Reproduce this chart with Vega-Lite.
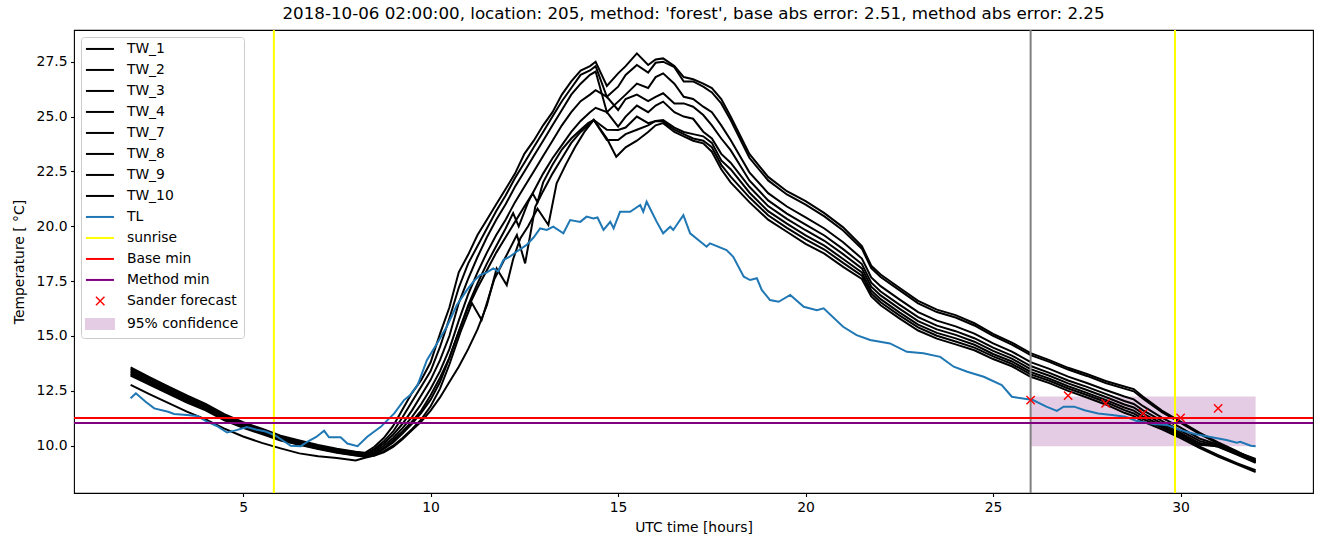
{
"$schema": "https://vega.github.io/schema/vega-lite/v6.json",
"width": 1239, "height": 463,
"autosize": {"type": "none"},
"padding": {"left": 74, "top": 30, "right": 11, "bottom": 54},
"background": "white",
"title": {"text": "2018-10-06 02:00:00, location: 205, method: 'forest', base abs error: 2.51, method abs error: 2.25", "fontSize": 16.7, "font": "DejaVu Sans", "fontWeight": "normal", "color": "black", "offset": 6, "anchor": "middle"},
"config": {
 "font": "DejaVu Sans",
 "view": {"stroke": "black", "strokeWidth": 1.1},
 "axis": {"grid": false, "domain": false, "tickColor": "black", "tickSize": 3.5, "tickWidth": 1.1, "labelColor": "black", "labelFontSize": 13.9, "labelFont": "DejaVu Sans", "labelPadding": 3.5, "titleFont": "DejaVu Sans", "titleFontSize": 13.9, "titleFontWeight": "normal", "titleColor": "black"}
},
"datasets": {
 "band": [{"s": "95% confidence", "h": 26, "h2": 32, "t": 9.98, "t2": 12.24}],
 "tw": [
{"s":"TW_1","h":2,"t":13.57},{"s":"TW_1","h":2.5,"t":13.13},{"s":"TW_1","h":3,"t":12.7},{"s":"TW_1","h":3.5,"t":12.29},{"s":"TW_1","h":4,"t":11.91},{"s":"TW_1","h":4.5,"t":11.44},{"s":"TW_1","h":5,"t":11.07},{"s":"TW_1","h":5.5,"t":10.77},{"s":"TW_1","h":6,"t":10.46},{"s":"TW_1","h":6.5,"t":10.24},{"s":"TW_1","h":7,"t":10.03},{"s":"TW_1","h":7.5,"t":9.86},{"s":"TW_1","h":8,"t":9.73},
{"s":"TW_1","h":8.25,"t":9.68},{"s":"TW_1","h":8.5,"t":9.95},{"s":"TW_1","h":8.75,"t":10.35},{"s":"TW_1","h":9,"t":10.9},{"s":"TW_1","h":9.25,"t":11.65},{"s":"TW_1","h":9.5,"t":12.4},{"s":"TW_1","h":9.75,"t":13.0},{"s":"TW_1","h":10,"t":13.8},{"s":"TW_1","h":10.25,"t":15.1},{"s":"TW_1","h":10.5,"t":16.3},{"s":"TW_1","h":10.75,"t":17.9},{"s":"TW_1","h":11,"t":18.7},{"s":"TW_1","h":11.25,"t":19.6},{"s":"TW_1","h":11.5,"t":20.3},{"s":"TW_1","h":11.75,"t":21.0},{"s":"TW_1","h":12,"t":21.7},{"s":"TW_1","h":12.25,"t":22.4},{"s":"TW_1","h":12.5,"t":23.3},{"s":"TW_1","h":12.75,"t":23.9},{"s":"TW_1","h":13,"t":24.6},{"s":"TW_1","h":13.25,"t":25.2},{"s":"TW_1","h":13.5,"t":26.0},{"s":"TW_1","h":13.75,"t":26.6},{"s":"TW_1","h":14,"t":27.1},{"s":"TW_1","h":14.25,"t":27.3},
{"s":"TW_1","h":14.4,"t":27.5},{"s":"TW_1","h":14.7,"t":26.4},{"s":"TW_1","h":15,"t":26.97},{"s":"TW_1","h":15.2,"t":27.3},{"s":"TW_1","h":15.5,"t":27.88},{"s":"TW_1","h":15.8,"t":27.35},{"s":"TW_1","h":16,"t":27.6},{"s":"TW_1","h":16.2,"t":27.65},{"s":"TW_1","h":16.5,"t":27.3},{"s":"TW_1","h":16.75,"t":26.8},{"s":"TW_1","h":17,"t":26.7},{"s":"TW_1","h":17.27,"t":26.5},{"s":"TW_1","h":17.5,"t":26.3},{"s":"TW_1","h":17.75,"t":25.8},{"s":"TW_1","h":18,"t":25.0},
{"s":"TW_1","h":18.5,"t":23.3},{"s":"TW_1","h":19,"t":22.25},{"s":"TW_1","h":19.5,"t":21.6},{"s":"TW_1","h":20,"t":21.15},{"s":"TW_1","h":20.5,"t":20.6},{"s":"TW_1","h":21,"t":19.95},{"s":"TW_1","h":21.5,"t":19.1},{"s":"TW_1","h":21.75,"t":18.2},{"s":"TW_1","h":22,"t":17.8},{"s":"TW_1","h":22.5,"t":17.2},{"s":"TW_1","h":23,"t":16.6},{"s":"TW_1","h":23.5,"t":16.2},{"s":"TW_1","h":24,"t":15.95},{"s":"TW_1","h":24.5,"t":15.58},{"s":"TW_1","h":25,"t":15.1},{"s":"TW_1","h":25.5,"t":14.7},{"s":"TW_1","h":26,"t":14.22},{"s":"TW_1","h":26.5,"t":13.9},{"s":"TW_1","h":27,"t":13.55},{"s":"TW_1","h":27.5,"t":13.27},{"s":"TW_1","h":28,"t":12.95},{"s":"TW_1","h":28.5,"t":12.7},{"s":"TW_1","h":28.75,"t":12.58},{"s":"TW_1","h":29,"t":12.23},{"s":"TW_1","h":29.5,"t":11.6},{"s":"TW_1","h":30,"t":11.1},{"s":"TW_1","h":30.5,"t":10.6},{"s":"TW_1","h":31,"t":10.15},{"s":"TW_1","h":31.5,"t":9.75},{"s":"TW_1","h":32,"t":9.3},

{"s":"TW_2","h":2,"t":13.5},{"s":"TW_2","h":2.5,"t":13.06},{"s":"TW_2","h":3,"t":12.64},{"s":"TW_2","h":3.5,"t":12.23},{"s":"TW_2","h":4,"t":11.85},{"s":"TW_2","h":4.5,"t":11.38},{"s":"TW_2","h":5,"t":11.03},{"s":"TW_2","h":5.5,"t":10.73},{"s":"TW_2","h":6,"t":10.42},{"s":"TW_2","h":6.5,"t":10.2},{"s":"TW_2","h":7,"t":10.0},{"s":"TW_2","h":7.5,"t":9.83},{"s":"TW_2","h":8,"t":9.7},
{"s":"TW_2","h":8.25,"t":9.62},{"s":"TW_2","h":8.5,"t":9.85},{"s":"TW_2","h":8.75,"t":10.2},{"s":"TW_2","h":9,"t":10.65},{"s":"TW_2","h":9.25,"t":11.3},{"s":"TW_2","h":9.5,"t":12.0},{"s":"TW_2","h":9.75,"t":12.7},{"s":"TW_2","h":10,"t":13.4},{"s":"TW_2","h":10.25,"t":14.5},{"s":"TW_2","h":10.5,"t":15.8},{"s":"TW_2","h":10.75,"t":17.2},{"s":"TW_2","h":11,"t":18.3},{"s":"TW_2","h":11.25,"t":19.1},{"s":"TW_2","h":11.5,"t":19.9},{"s":"TW_2","h":11.75,"t":20.7},{"s":"TW_2","h":12,"t":21.4},{"s":"TW_2","h":12.25,"t":22.2},{"s":"TW_2","h":12.5,"t":22.9},{"s":"TW_2","h":12.75,"t":23.6},{"s":"TW_2","h":13,"t":24.3},{"s":"TW_2","h":13.25,"t":25.0},{"s":"TW_2","h":13.5,"t":25.7},{"s":"TW_2","h":13.75,"t":26.3},{"s":"TW_2","h":14,"t":26.9},{"s":"TW_2","h":14.25,"t":27.1},
{"s":"TW_2","h":14.4,"t":27.3},{"s":"TW_2","h":14.7,"t":25.9},{"s":"TW_2","h":15,"t":26.36},{"s":"TW_2","h":15.2,"t":26.9},{"s":"TW_2","h":15.5,"t":27.35},{"s":"TW_2","h":15.8,"t":27.0},{"s":"TW_2","h":16,"t":27.45},{"s":"TW_2","h":16.2,"t":27.5},{"s":"TW_2","h":16.5,"t":27.25},{"s":"TW_2","h":16.75,"t":26.6},{"s":"TW_2","h":17,"t":26.6},{"s":"TW_2","h":17.27,"t":26.36},{"s":"TW_2","h":17.5,"t":26.1},{"s":"TW_2","h":17.75,"t":25.6},{"s":"TW_2","h":18,"t":24.84},
{"s":"TW_2","h":18.5,"t":23.12},{"s":"TW_2","h":19,"t":22.09},{"s":"TW_2","h":19.5,"t":21.45},{"s":"TW_2","h":20,"t":20.99},{"s":"TW_2","h":20.5,"t":20.45},{"s":"TW_2","h":21,"t":19.81},{"s":"TW_2","h":21.5,"t":18.98},{"s":"TW_2","h":21.75,"t":18.09},{"s":"TW_2","h":22,"t":17.69},{"s":"TW_2","h":22.5,"t":17.09},{"s":"TW_2","h":23,"t":16.49},{"s":"TW_2","h":23.5,"t":16.09},{"s":"TW_2","h":24,"t":15.84},{"s":"TW_2","h":24.5,"t":15.48},{"s":"TW_2","h":25,"t":15.01},{"s":"TW_2","h":25.5,"t":14.61},{"s":"TW_2","h":26,"t":14.13},{"s":"TW_2","h":26.5,"t":13.82},{"s":"TW_2","h":27,"t":13.47},{"s":"TW_2","h":27.5,"t":13.18},{"s":"TW_2","h":28,"t":12.86},{"s":"TW_2","h":28.5,"t":12.6},{"s":"TW_2","h":28.75,"t":12.48},{"s":"TW_2","h":29,"t":12.14},{"s":"TW_2","h":29.5,"t":11.53},{"s":"TW_2","h":30,"t":11.04},{"s":"TW_2","h":30.5,"t":10.54},{"s":"TW_2","h":31,"t":10.1},{"s":"TW_2","h":31.5,"t":9.72},{"s":"TW_2","h":32,"t":9.35},

{"s":"TW_3","h":2,"t":13.43},{"s":"TW_3","h":2.5,"t":12.98},{"s":"TW_3","h":3,"t":12.57},{"s":"TW_3","h":3.5,"t":12.17},{"s":"TW_3","h":4,"t":11.79},{"s":"TW_3","h":4.5,"t":11.33},{"s":"TW_3","h":5,"t":10.98},{"s":"TW_3","h":5.5,"t":10.68},{"s":"TW_3","h":6,"t":10.38},{"s":"TW_3","h":6.5,"t":10.16},{"s":"TW_3","h":7,"t":9.96},{"s":"TW_3","h":7.5,"t":9.79},{"s":"TW_3","h":8,"t":9.66},
{"s":"TW_3","h":8.25,"t":9.6},{"s":"TW_3","h":8.5,"t":9.8},{"s":"TW_3","h":8.75,"t":10.1},{"s":"TW_3","h":9,"t":10.5},{"s":"TW_3","h":9.25,"t":11.0},{"s":"TW_3","h":9.5,"t":11.6},{"s":"TW_3","h":9.75,"t":12.3},{"s":"TW_3","h":10,"t":13.0},{"s":"TW_3","h":10.25,"t":13.9},{"s":"TW_3","h":10.5,"t":15.0},{"s":"TW_3","h":10.75,"t":16.5},{"s":"TW_3","h":11,"t":17.6},{"s":"TW_3","h":11.25,"t":18.6},{"s":"TW_3","h":11.5,"t":19.5},{"s":"TW_3","h":11.75,"t":20.3},{"s":"TW_3","h":12,"t":21.0},{"s":"TW_3","h":12.25,"t":21.8},{"s":"TW_3","h":12.5,"t":22.5},{"s":"TW_3","h":12.75,"t":23.2},{"s":"TW_3","h":13,"t":23.9},{"s":"TW_3","h":13.25,"t":24.6},{"s":"TW_3","h":13.5,"t":25.3},{"s":"TW_3","h":13.75,"t":26.0},{"s":"TW_3","h":14,"t":26.5},{"s":"TW_3","h":14.25,"t":26.9},
{"s":"TW_3","h":14.4,"t":27.05},{"s":"TW_3","h":14.7,"t":25.2},{"s":"TW_3","h":15,"t":25.68},{"s":"TW_3","h":15.2,"t":26.0},{"s":"TW_3","h":15.5,"t":26.5},{"s":"TW_3","h":15.8,"t":26.3},{"s":"TW_3","h":16,"t":26.8},{"s":"TW_3","h":16.2,"t":26.97},{"s":"TW_3","h":16.5,"t":26.5},{"s":"TW_3","h":16.75,"t":25.9},{"s":"TW_3","h":17,"t":25.8},{"s":"TW_3","h":17.27,"t":25.45},{"s":"TW_3","h":17.5,"t":25.2},{"s":"TW_3","h":17.75,"t":24.6},{"s":"TW_3","h":18,"t":23.93},
{"s":"TW_3","h":18.5,"t":22.46},{"s":"TW_3","h":19,"t":21.51},{"s":"TW_3","h":19.5,"t":20.9},{"s":"TW_3","h":20,"t":20.41},{"s":"TW_3","h":20.5,"t":19.9},{"s":"TW_3","h":21,"t":19.27},{"s":"TW_3","h":21.5,"t":18.53},{"s":"TW_3","h":21.75,"t":17.67},{"s":"TW_3","h":22,"t":17.27},{"s":"TW_3","h":22.5,"t":16.67},{"s":"TW_3","h":23,"t":16.09},{"s":"TW_3","h":23.5,"t":15.7},{"s":"TW_3","h":24,"t":15.44},{"s":"TW_3","h":24.5,"t":15.11},{"s":"TW_3","h":25,"t":14.66},{"s":"TW_3","h":25.5,"t":14.29},{"s":"TW_3","h":26,"t":13.81},{"s":"TW_3","h":26.5,"t":13.5},{"s":"TW_3","h":27,"t":13.15},{"s":"TW_3","h":27.5,"t":12.86},{"s":"TW_3","h":28,"t":12.54},{"s":"TW_3","h":28.5,"t":12.24},{"s":"TW_3","h":28.75,"t":12.11},{"s":"TW_3","h":29,"t":11.8},{"s":"TW_3","h":29.5,"t":11.28},{"s":"TW_3","h":30,"t":10.82},{"s":"TW_3","h":30.5,"t":10.33},{"s":"TW_3","h":31,"t":10.05},{"s":"TW_3","h":31.5,"t":9.72},{"s":"TW_3","h":32,"t":9.4},

{"s":"TW_4","h":2,"t":13.37},{"s":"TW_4","h":2.5,"t":12.94},{"s":"TW_4","h":3,"t":12.52},{"s":"TW_4","h":3.5,"t":12.12},{"s":"TW_4","h":4,"t":11.75},{"s":"TW_4","h":4.5,"t":11.29},{"s":"TW_4","h":5,"t":10.93},{"s":"TW_4","h":5.5,"t":10.64},{"s":"TW_4","h":6,"t":10.34},{"s":"TW_4","h":6.5,"t":10.13},{"s":"TW_4","h":7,"t":9.93},{"s":"TW_4","h":7.5,"t":9.76},{"s":"TW_4","h":8,"t":9.63},
{"s":"TW_4","h":8.25,"t":9.57},{"s":"TW_4","h":8.5,"t":9.72},{"s":"TW_4","h":8.75,"t":10.0},{"s":"TW_4","h":9,"t":10.35},{"s":"TW_4","h":9.25,"t":10.8},{"s":"TW_4","h":9.5,"t":11.3},{"s":"TW_4","h":9.75,"t":11.9},{"s":"TW_4","h":10,"t":12.6},{"s":"TW_4","h":10.25,"t":13.4},{"s":"TW_4","h":10.5,"t":14.4},{"s":"TW_4","h":10.75,"t":15.7},{"s":"TW_4","h":11,"t":16.9},{"s":"TW_4","h":11.25,"t":17.9},{"s":"TW_4","h":11.5,"t":18.8},{"s":"TW_4","h":11.75,"t":19.6},{"s":"TW_4","h":12,"t":20.3},{"s":"TW_4","h":12.25,"t":21.1},{"s":"TW_4","h":12.5,"t":21.8},{"s":"TW_4","h":12.75,"t":22.5},{"s":"TW_4","h":13,"t":23.2},{"s":"TW_4","h":13.25,"t":23.9},{"s":"TW_4","h":13.5,"t":24.6},{"s":"TW_4","h":13.75,"t":25.2},{"s":"TW_4","h":14,"t":25.7},{"s":"TW_4","h":14.25,"t":26.0},
{"s":"TW_4","h":14.4,"t":26.2},{"s":"TW_4","h":14.7,"t":25.9},{"s":"TW_4","h":15,"t":25.3},{"s":"TW_4","h":15.2,"t":25.8},{"s":"TW_4","h":15.5,"t":26.0},{"s":"TW_4","h":15.8,"t":25.7},{"s":"TW_4","h":16,"t":25.9},{"s":"TW_4","h":16.2,"t":26.06},{"s":"TW_4","h":16.5,"t":25.6},{"s":"TW_4","h":16.75,"t":25.6},{"s":"TW_4","h":17,"t":25.45},{"s":"TW_4","h":17.27,"t":25.07},{"s":"TW_4","h":17.5,"t":24.6},{"s":"TW_4","h":17.75,"t":24.0},{"s":"TW_4","h":18,"t":23.47},
{"s":"TW_4","h":18.5,"t":22.09},{"s":"TW_4","h":19,"t":21.18},{"s":"TW_4","h":19.5,"t":20.58},{"s":"TW_4","h":20,"t":20.08},{"s":"TW_4","h":20.5,"t":19.58},{"s":"TW_4","h":21,"t":18.96},{"s":"TW_4","h":21.5,"t":18.28},{"s":"TW_4","h":21.75,"t":17.43},{"s":"TW_4","h":22,"t":17.03},{"s":"TW_4","h":22.5,"t":16.43},{"s":"TW_4","h":23,"t":15.86},{"s":"TW_4","h":23.5,"t":15.47},{"s":"TW_4","h":24,"t":15.22},{"s":"TW_4","h":24.5,"t":14.9},{"s":"TW_4","h":25,"t":14.47},{"s":"TW_4","h":25.5,"t":14.11},{"s":"TW_4","h":26,"t":13.63},{"s":"TW_4","h":26.5,"t":13.32},{"s":"TW_4","h":27,"t":12.97},{"s":"TW_4","h":27.5,"t":12.68},{"s":"TW_4","h":28,"t":12.36},{"s":"TW_4","h":28.5,"t":12.04},{"s":"TW_4","h":28.75,"t":11.9},{"s":"TW_4","h":29,"t":11.61},{"s":"TW_4","h":29.5,"t":11.13},{"s":"TW_4","h":30,"t":10.69},{"s":"TW_4","h":30.5,"t":10.22},{"s":"TW_4","h":31,"t":10.0},{"s":"TW_4","h":31.5,"t":9.65},{"s":"TW_4","h":32,"t":9.28},

{"s":"TW_7","h":2,"t":13.3},{"s":"TW_7","h":2.5,"t":12.87},{"s":"TW_7","h":3,"t":12.46},{"s":"TW_7","h":3.5,"t":12.06},{"s":"TW_7","h":4,"t":11.69},{"s":"TW_7","h":4.5,"t":11.23},{"s":"TW_7","h":5,"t":10.89},{"s":"TW_7","h":5.5,"t":10.6},{"s":"TW_7","h":6,"t":10.3},{"s":"TW_7","h":6.5,"t":10.09},{"s":"TW_7","h":7,"t":9.9},{"s":"TW_7","h":7.5,"t":9.73},{"s":"TW_7","h":8,"t":9.6},
{"s":"TW_7","h":8.25,"t":9.55},{"s":"TW_7","h":8.5,"t":9.65},{"s":"TW_7","h":8.75,"t":9.9},{"s":"TW_7","h":9,"t":10.25},{"s":"TW_7","h":9.25,"t":10.65},{"s":"TW_7","h":9.5,"t":11.1},{"s":"TW_7","h":9.75,"t":11.6},{"s":"TW_7","h":10,"t":12.3},{"s":"TW_7","h":10.25,"t":13.1},{"s":"TW_7","h":10.5,"t":14.0},{"s":"TW_7","h":10.75,"t":15.2},{"s":"TW_7","h":11,"t":16.4},{"s":"TW_7","h":11.25,"t":17.4},{"s":"TW_7","h":11.5,"t":18.3},{"s":"TW_7","h":11.75,"t":19.1},{"s":"TW_7","h":12,"t":19.9},{"s":"TW_7","h":12.2,"t":20.6},{"s":"TW_7","h":12.35,"t":20.0},{"s":"TW_7","h":12.6,"t":21.1},{"s":"TW_7","h":12.75,"t":21.6},{"s":"TW_7","h":13,"t":22.4},{"s":"TW_7","h":13.25,"t":23.1},{"s":"TW_7","h":13.5,"t":23.7},{"s":"TW_7","h":13.75,"t":24.3},{"s":"TW_7","h":14,"t":24.8},{"s":"TW_7","h":14.25,"t":25.2},
{"s":"TW_7","h":14.4,"t":25.4},{"s":"TW_7","h":14.7,"t":25.2},{"s":"TW_7","h":15,"t":24.54},{"s":"TW_7","h":15.2,"t":25.0},{"s":"TW_7","h":15.5,"t":25.5},{"s":"TW_7","h":15.8,"t":25.2},{"s":"TW_7","h":16,"t":25.5},{"s":"TW_7","h":16.2,"t":25.68},{"s":"TW_7","h":16.5,"t":25.2},{"s":"TW_7","h":16.75,"t":25.0},{"s":"TW_7","h":17,"t":24.9},{"s":"TW_7","h":17.27,"t":24.31},{"s":"TW_7","h":17.5,"t":24.0},{"s":"TW_7","h":17.75,"t":23.3},{"s":"TW_7","h":18,"t":22.9},
{"s":"TW_7","h":18.5,"t":21.8},{"s":"TW_7","h":19,"t":20.92},{"s":"TW_7","h":19.5,"t":20.34},{"s":"TW_7","h":20,"t":19.82},{"s":"TW_7","h":20.5,"t":19.34},{"s":"TW_7","h":21,"t":18.73},{"s":"TW_7","h":21.5,"t":18.08},{"s":"TW_7","h":21.75,"t":17.25},{"s":"TW_7","h":22,"t":16.85},{"s":"TW_7","h":22.5,"t":16.25},{"s":"TW_7","h":23,"t":15.68},{"s":"TW_7","h":23.5,"t":15.3},{"s":"TW_7","h":24,"t":15.05},{"s":"TW_7","h":24.5,"t":14.74},{"s":"TW_7","h":25,"t":14.32},{"s":"TW_7","h":25.5,"t":13.97},{"s":"TW_7","h":26,"t":13.49},{"s":"TW_7","h":26.5,"t":13.19},{"s":"TW_7","h":27,"t":12.84},{"s":"TW_7","h":27.5,"t":12.54},{"s":"TW_7","h":28,"t":12.22},{"s":"TW_7","h":28.5,"t":11.88},{"s":"TW_7","h":28.75,"t":11.74},{"s":"TW_7","h":29,"t":11.46},{"s":"TW_7","h":29.5,"t":11.02},{"s":"TW_7","h":30,"t":10.59},{"s":"TW_7","h":30.5,"t":10.12},{"s":"TW_7","h":31,"t":9.95},{"s":"TW_7","h":31.5,"t":9.6},{"s":"TW_7","h":32,"t":9.22},

{"s":"TW_8","h":2,"t":13.25},{"s":"TW_8","h":2.5,"t":12.83},{"s":"TW_8","h":3,"t":12.41},{"s":"TW_8","h":3.5,"t":12.02},{"s":"TW_8","h":4,"t":11.65},{"s":"TW_8","h":4.5,"t":11.2},{"s":"TW_8","h":5,"t":10.85},{"s":"TW_8","h":5.5,"t":10.57},{"s":"TW_8","h":6,"t":10.27},{"s":"TW_8","h":6.5,"t":10.07},{"s":"TW_8","h":7,"t":9.87},{"s":"TW_8","h":7.5,"t":9.7},{"s":"TW_8","h":8,"t":9.57},
{"s":"TW_8","h":8.25,"t":9.52},{"s":"TW_8","h":8.5,"t":9.6},{"s":"TW_8","h":8.75,"t":9.85},{"s":"TW_8","h":9,"t":10.15},{"s":"TW_8","h":9.25,"t":10.55},{"s":"TW_8","h":9.5,"t":11.0},{"s":"TW_8","h":9.75,"t":11.5},{"s":"TW_8","h":10,"t":12.1},{"s":"TW_8","h":10.25,"t":12.9},{"s":"TW_8","h":10.5,"t":14.0},{"s":"TW_8","h":10.75,"t":15.2},{"s":"TW_8","h":11,"t":16.3},{"s":"TW_8","h":11.25,"t":17.2},{"s":"TW_8","h":11.5,"t":18.0},{"s":"TW_8","h":11.75,"t":18.8},{"s":"TW_8","h":12,"t":19.5},{"s":"TW_8","h":12.25,"t":20.2},{"s":"TW_8","h":12.5,"t":20.9},{"s":"TW_8","h":12.72,"t":21.5},{"s":"TW_8","h":12.85,"t":21.1},{"s":"TW_8","h":13,"t":22.0},{"s":"TW_8","h":13.25,"t":22.8},{"s":"TW_8","h":13.5,"t":23.5},{"s":"TW_8","h":13.75,"t":24.0},{"s":"TW_8","h":14,"t":24.4},{"s":"TW_8","h":14.2,"t":24.7},
{"s":"TW_8","h":14.35,"t":24.85},{"s":"TW_8","h":14.7,"t":24.4},{"s":"TW_8","h":15,"t":24.39},{"s":"TW_8","h":15.2,"t":24.5},{"s":"TW_8","h":15.5,"t":25.0},{"s":"TW_8","h":15.8,"t":24.7},{"s":"TW_8","h":16,"t":24.8},{"s":"TW_8","h":16.2,"t":24.84},{"s":"TW_8","h":16.5,"t":24.5},{"s":"TW_8","h":16.75,"t":24.3},{"s":"TW_8","h":17,"t":24.2},{"s":"TW_8","h":17.27,"t":24.1},{"s":"TW_8","h":17.5,"t":23.8},{"s":"TW_8","h":17.75,"t":23.0},{"s":"TW_8","h":18,"t":22.6},
{"s":"TW_8","h":18.5,"t":21.54},{"s":"TW_8","h":19,"t":20.69},{"s":"TW_8","h":19.5,"t":20.12},{"s":"TW_8","h":20,"t":19.59},{"s":"TW_8","h":20.5,"t":19.12},{"s":"TW_8","h":21,"t":18.51},{"s":"TW_8","h":21.5,"t":17.9},{"s":"TW_8","h":21.75,"t":17.08},{"s":"TW_8","h":22,"t":16.68},{"s":"TW_8","h":22.5,"t":16.08},{"s":"TW_8","h":23,"t":15.52},{"s":"TW_8","h":23.5,"t":15.14},{"s":"TW_8","h":24,"t":14.89},{"s":"TW_8","h":24.5,"t":14.6},{"s":"TW_8","h":25,"t":14.18},{"s":"TW_8","h":25.5,"t":13.84},{"s":"TW_8","h":26,"t":13.36},{"s":"TW_8","h":26.5,"t":13.06},{"s":"TW_8","h":27,"t":12.71},{"s":"TW_8","h":27.5,"t":12.41},{"s":"TW_8","h":28,"t":12.09},{"s":"TW_8","h":28.5,"t":11.74},{"s":"TW_8","h":28.75,"t":11.6},{"s":"TW_8","h":29,"t":11.33},{"s":"TW_8","h":29.5,"t":10.92},{"s":"TW_8","h":30,"t":10.5},{"s":"TW_8","h":30.5,"t":10.04},{"s":"TW_8","h":31,"t":9.97},{"s":"TW_8","h":31.5,"t":9.62},{"s":"TW_8","h":32,"t":9.25},

{"s":"TW_9","h":2,"t":13.2},{"s":"TW_9","h":2.5,"t":12.78},{"s":"TW_9","h":3,"t":12.37},{"s":"TW_9","h":3.5,"t":11.97},{"s":"TW_9","h":4,"t":11.61},{"s":"TW_9","h":4.5,"t":11.16},{"s":"TW_9","h":5,"t":10.82},{"s":"TW_9","h":5.5,"t":10.53},{"s":"TW_9","h":6,"t":10.24},{"s":"TW_9","h":6.5,"t":10.04},{"s":"TW_9","h":7,"t":9.85},{"s":"TW_9","h":7.5,"t":9.68},{"s":"TW_9","h":8,"t":9.55},
{"s":"TW_9","h":8.25,"t":9.5},{"s":"TW_9","h":8.5,"t":9.55},{"s":"TW_9","h":8.75,"t":9.75},{"s":"TW_9","h":9,"t":10.0},{"s":"TW_9","h":9.25,"t":10.35},{"s":"TW_9","h":9.5,"t":10.75},{"s":"TW_9","h":9.75,"t":11.2},{"s":"TW_9","h":10,"t":11.8},{"s":"TW_9","h":10.25,"t":12.6},{"s":"TW_9","h":10.5,"t":13.7},{"s":"TW_9","h":10.8,"t":15.2},{"s":"TW_9","h":11.1,"t":16.5},{"s":"TW_9","h":11.36,"t":15.73},{"s":"TW_9","h":11.7,"t":17.6},{"s":"TW_9","h":12.0,"t":18.6},{"s":"TW_9","h":12.3,"t":19.6},{"s":"TW_9","h":12.52,"t":18.31},{"s":"TW_9","h":12.79,"t":20.89},{"s":"TW_9","h":13,"t":21.6},{"s":"TW_9","h":13.25,"t":22.4},{"s":"TW_9","h":13.5,"t":23.1},{"s":"TW_9","h":13.75,"t":23.8},{"s":"TW_9","h":14,"t":24.3},{"s":"TW_9","h":14.2,"t":24.6},
{"s":"TW_9","h":14.35,"t":24.85},{"s":"TW_9","h":14.7,"t":23.93},{"s":"TW_9","h":15,"t":23.93},{"s":"TW_9","h":15.2,"t":24.2},{"s":"TW_9","h":15.5,"t":24.4},{"s":"TW_9","h":15.8,"t":24.6},{"s":"TW_9","h":16,"t":24.8},{"s":"TW_9","h":16.2,"t":24.77},{"s":"TW_9","h":16.5,"t":24.4},{"s":"TW_9","h":16.75,"t":24.2},{"s":"TW_9","h":17,"t":24.0},{"s":"TW_9","h":17.27,"t":23.9},{"s":"TW_9","h":17.5,"t":23.6},{"s":"TW_9","h":17.75,"t":22.8},{"s":"TW_9","h":18,"t":22.26},
{"s":"TW_9","h":18.5,"t":21.32},{"s":"TW_9","h":19,"t":20.5},{"s":"TW_9","h":19.5,"t":19.93},{"s":"TW_9","h":20,"t":19.4},{"s":"TW_9","h":20.5,"t":18.94},{"s":"TW_9","h":21,"t":18.33},{"s":"TW_9","h":21.5,"t":17.75},{"s":"TW_9","h":21.75,"t":16.94},{"s":"TW_9","h":22,"t":16.54},{"s":"TW_9","h":22.5,"t":15.94},{"s":"TW_9","h":23,"t":15.39},{"s":"TW_9","h":23.5,"t":15.01},{"s":"TW_9","h":24,"t":14.75},{"s":"TW_9","h":24.5,"t":14.47},{"s":"TW_9","h":25,"t":14.07},{"s":"TW_9","h":25.5,"t":13.73},{"s":"TW_9","h":26,"t":13.25},{"s":"TW_9","h":26.5,"t":12.96},{"s":"TW_9","h":27,"t":12.61},{"s":"TW_9","h":27.5,"t":12.31},{"s":"TW_9","h":28,"t":11.99},{"s":"TW_9","h":28.5,"t":11.62},{"s":"TW_9","h":28.75,"t":11.47},{"s":"TW_9","h":29,"t":11.21},{"s":"TW_9","h":29.5,"t":10.84},{"s":"TW_9","h":30,"t":10.43},{"s":"TW_9","h":30.5,"t":9.97},{"s":"TW_9","h":31,"t":9.57},{"s":"TW_9","h":31.5,"t":9.2},{"s":"TW_9","h":32,"t":8.88},

{"s":"TW_10","h":2,"t":12.77},{"s":"TW_10","h":2.5,"t":12.35},{"s":"TW_10","h":3,"t":11.95},{"s":"TW_10","h":3.5,"t":11.55},{"s":"TW_10","h":4,"t":11.2},{"s":"TW_10","h":4.5,"t":10.78},{"s":"TW_10","h":5,"t":10.42},{"s":"TW_10","h":5.5,"t":10.13},{"s":"TW_10","h":6,"t":9.88},{"s":"TW_10","h":6.5,"t":9.65},{"s":"TW_10","h":7,"t":9.52},{"s":"TW_10","h":7.5,"t":9.44},{"s":"TW_10","h":8,"t":9.33},
{"s":"TW_10","h":8.25,"t":9.45},{"s":"TW_10","h":8.5,"t":9.55},{"s":"TW_10","h":8.75,"t":9.7},{"s":"TW_10","h":9,"t":9.95},{"s":"TW_10","h":9.25,"t":10.3},{"s":"TW_10","h":9.5,"t":10.7},{"s":"TW_10","h":9.75,"t":11.1},{"s":"TW_10","h":10,"t":11.6},{"s":"TW_10","h":10.25,"t":12.2},{"s":"TW_10","h":10.5,"t":12.9},{"s":"TW_10","h":10.75,"t":13.6},{"s":"TW_10","h":11,"t":14.4},{"s":"TW_10","h":11.25,"t":15.3},{"s":"TW_10","h":11.5,"t":16.4},{"s":"TW_10","h":11.76,"t":18.08},{"s":"TW_10","h":12.03,"t":17.32},{"s":"TW_10","h":12.2,"t":18.5},{"s":"TW_10","h":12.39,"t":19.45},{"s":"TW_10","h":12.6,"t":20.0},{"s":"TW_10","h":12.85,"t":20.8},{"s":"TW_10","h":13.14,"t":20.06},{"s":"TW_10","h":13.36,"t":21.96},{"s":"TW_10","h":13.6,"t":22.8},{"s":"TW_10","h":13.85,"t":23.6},{"s":"TW_10","h":14.1,"t":24.3},
{"s":"TW_10","h":14.35,"t":24.85},{"s":"TW_10","h":14.7,"t":24.0},{"s":"TW_10","h":14.95,"t":23.17},{"s":"TW_10","h":15.2,"t":23.6},{"s":"TW_10","h":15.5,"t":23.9},{"s":"TW_10","h":15.8,"t":24.3},{"s":"TW_10","h":16,"t":24.6},{"s":"TW_10","h":16.2,"t":24.7},{"s":"TW_10","h":16.5,"t":24.3},{"s":"TW_10","h":16.75,"t":24.1},{"s":"TW_10","h":17,"t":23.9},{"s":"TW_10","h":17.27,"t":23.78},{"s":"TW_10","h":17.5,"t":23.4},{"s":"TW_10","h":17.75,"t":22.6},{"s":"TW_10","h":18,"t":22.0},
{"s":"TW_10","h":18.5,"t":21.1},{"s":"TW_10","h":19,"t":20.3},{"s":"TW_10","h":19.5,"t":19.75},{"s":"TW_10","h":20,"t":19.2},{"s":"TW_10","h":20.5,"t":18.75},{"s":"TW_10","h":21,"t":18.15},{"s":"TW_10","h":21.5,"t":17.6},{"s":"TW_10","h":21.75,"t":16.8},{"s":"TW_10","h":22,"t":16.4},{"s":"TW_10","h":22.5,"t":15.8},{"s":"TW_10","h":23,"t":15.25},{"s":"TW_10","h":23.5,"t":14.88},{"s":"TW_10","h":24,"t":14.62},{"s":"TW_10","h":24.5,"t":14.35},{"s":"TW_10","h":25,"t":13.95},{"s":"TW_10","h":25.5,"t":13.62},{"s":"TW_10","h":26,"t":13.14},{"s":"TW_10","h":26.5,"t":12.85},{"s":"TW_10","h":27,"t":12.5},{"s":"TW_10","h":27.5,"t":12.2},{"s":"TW_10","h":28,"t":11.88},{"s":"TW_10","h":28.5,"t":11.5},{"s":"TW_10","h":28.75,"t":11.35},{"s":"TW_10","h":29,"t":11.1},{"s":"TW_10","h":29.5,"t":10.75},{"s":"TW_10","h":30,"t":10.35},{"s":"TW_10","h":30.5,"t":9.9},{"s":"TW_10","h":31,"t":9.5},{"s":"TW_10","h":31.5,"t":9.15},{"s":"TW_10","h":32,"t":8.8}
 ],
 "tl": [
{"s":"TL","h":2.0,"t":12.16},{"s":"TL","h":2.14,"t":12.39},{"s":"TL","h":2.4,"t":12.0},{"s":"TL","h":2.63,"t":11.7},{"s":"TL","h":3.0,"t":11.55},{"s":"TL","h":3.16,"t":11.45},{"s":"TL","h":3.5,"t":11.4},{"s":"TL","h":3.78,"t":11.35},{"s":"TL","h":4.04,"t":11.1},{"s":"TL","h":4.3,"t":10.9},{"s":"TL","h":4.57,"t":10.6},{"s":"TL","h":4.8,"t":10.7},{"s":"TL","h":5.1,"t":10.85},{"s":"TL","h":5.34,"t":10.74},{"s":"TL","h":5.6,"t":10.65},{"s":"TL","h":5.83,"t":10.49},{"s":"TL","h":6.05,"t":10.25},{"s":"TL","h":6.27,"t":10.0},{"s":"TL","h":6.54,"t":9.98},{"s":"TL","h":6.71,"t":10.18},{"s":"TL","h":6.95,"t":10.4},{"s":"TL","h":7.16,"t":10.68},{"s":"TL","h":7.29,"t":10.38},{"s":"TL","h":7.6,"t":10.38},{"s":"TL","h":7.78,"t":10.1},{"s":"TL","h":8.05,"t":9.98},{"s":"TL","h":8.31,"t":10.41},{"s":"TL","h":8.67,"t":10.86},{"s":"TL","h":9.03,"t":11.47},{"s":"TL","h":9.29,"t":12.08},{"s":"TL","h":9.45,"t":12.3},{"s":"TL","h":9.65,"t":12.75},{"s":"TL","h":9.9,"t":13.9},{"s":"TL","h":10.17,"t":14.66},{"s":"TL","h":10.43,"t":15.42},{"s":"TL","h":10.7,"t":16.41},{"s":"TL","h":10.97,"t":17.1},{"s":"TL","h":11.15,"t":17.5},{"s":"TL","h":11.32,"t":17.78},{"s":"TL","h":11.5,"t":17.9},{"s":"TL","h":11.67,"t":18.08},{"s":"TL","h":11.8,"t":17.95},{"s":"TL","h":11.94,"t":18.46},{"s":"TL","h":12.1,"t":18.6},{"s":"TL","h":12.29,"t":18.84},{"s":"TL","h":12.56,"t":19.15},{"s":"TL","h":12.75,"t":19.5},{"s":"TL","h":12.92,"t":19.9},{"s":"TL","h":13.1,"t":19.83},{"s":"TL","h":13.27,"t":19.98},{"s":"TL","h":13.54,"t":19.68},{"s":"TL","h":13.72,"t":20.28},{"s":"TL","h":13.99,"t":20.2},{"s":"TL","h":14.16,"t":20.44},{"s":"TL","h":14.34,"t":20.36},{"s":"TL","h":14.45,"t":20.4},{"s":"TL","h":14.61,"t":19.83},{"s":"TL","h":14.79,"t":20.2},{"s":"TL","h":14.88,"t":19.91},{"s":"TL","h":15.05,"t":20.66},{"s":"TL","h":15.32,"t":20.66},{"s":"TL","h":15.59,"t":20.97},{"s":"TL","h":15.67,"t":20.66},{"s":"TL","h":15.76,"t":21.12},{"s":"TL","h":16.03,"t":20.2},{"s":"TL","h":16.2,"t":19.68},{"s":"TL","h":16.39,"t":19.98},{"s":"TL","h":16.47,"t":19.83},{"s":"TL","h":16.74,"t":20.51},{"s":"TL","h":16.92,"t":19.68},{"s":"TL","h":17.36,"t":19.07},{"s":"TL","h":17.45,"t":19.22},{"s":"TL","h":17.89,"t":18.92},{"s":"TL","h":18.07,"t":18.61},{"s":"TL","h":18.35,"t":17.7},{"s":"TL","h":18.52,"t":17.55},{"s":"TL","h":18.7,"t":17.63},{"s":"TL","h":18.83,"t":17.1},{"s":"TL","h":19.05,"t":16.64},{"s":"TL","h":19.28,"t":16.56},{"s":"TL","h":19.59,"t":16.87},{"s":"TL","h":19.95,"t":16.33},{"s":"TL","h":20.3,"t":16.18},{"s":"TL","h":20.48,"t":16.26},{"s":"TL","h":21.0,"t":15.42},{"s":"TL","h":21.36,"t":15.04},{"s":"TL","h":21.72,"t":14.82},{"s":"TL","h":22.25,"t":14.66},{"s":"TL","h":22.7,"t":14.28},{"s":"TL","h":23.14,"t":14.21},{"s":"TL","h":23.59,"t":14.05},{"s":"TL","h":23.95,"t":13.6},{"s":"TL","h":24.31,"t":13.37},{"s":"TL","h":24.75,"t":13.14},{"s":"TL","h":25.23,"t":12.76},{"s":"TL","h":25.5,"t":12.23},{"s":"TL","h":25.8,"t":12.15},{"s":"TL","h":26.06,"t":12.08},{"s":"TL","h":26.42,"t":11.78},{"s":"TL","h":26.7,"t":11.59},{"s":"TL","h":26.88,"t":11.78},{"s":"TL","h":27.16,"t":11.78},{"s":"TL","h":27.44,"t":11.62},{"s":"TL","h":27.8,"t":11.47},{"s":"TL","h":28.17,"t":11.4},{"s":"TL","h":28.53,"t":11.32},{"s":"TL","h":28.81,"t":11.14},{"s":"TL","h":29.27,"t":10.99},{"s":"TL","h":29.64,"t":10.94},{"s":"TL","h":30.0,"t":10.71},{"s":"TL","h":30.38,"t":10.53},{"s":"TL","h":30.76,"t":10.41},{"s":"TL","h":31.22,"t":10.26},{"s":"TL","h":31.5,"t":10.14},{"s":"TL","h":31.59,"t":10.18},{"s":"TL","h":31.87,"t":10.0},{"s":"TL","h":32.0,"t":9.98}
 ],
 "now": [{"h": 26}],
 "sunrise": [{"s": "sunrise", "h": 5.82}, {"s": "sunrise", "h": 29.85}],
 "mins": [{"s": "Base min", "t": 11.26}, {"s": "Method min", "t": 11.03}],
 "sander": [{"s":"Sander forecast","h":26,"t":12.08},{"s":"Sander forecast","h":27,"t":12.28},{"s":"Sander forecast","h":28,"t":11.93},{"s":"Sander forecast","h":29,"t":11.47},{"s":"Sander forecast","h":30,"t":11.27},{"s":"Sander forecast","h":31,"t":11.7}]
},
"layer": [
 {"data": {"name": "band"}, "mark": {"type": "rect"},
  "encoding": {
   "x": {"field": "h", "type": "quantitative", "scale": {"domain": [0.49, 33.53], "nice": false, "zero": false}, "axis": {"title": "UTC time [hours]", "values": [5,10,15,20,25,30], "titlePadding": 7}},
   "x2": {"field": "h2"},
   "y": {"field": "t", "type": "quantitative", "scale": {"domain": [7.845, 28.945], "nice": false, "zero": false}, "axis": {"title": "Temperature [ °C]", "values": [10,12.5,15,17.5,20,22.5,25,27.5], "format": ".1f", "titlePadding": 10}},
   "y2": {"field": "t2"},
   "color": {"field": "s", "type": "nominal",
    "scale": {"domain": ["TW_1","TW_2","TW_3","TW_4","TW_7","TW_8","TW_9","TW_10","TL","sunrise","Base min","Method min","Sander forecast","95% confidence"],
              "range": ["#000000","#000000","#000000","#000000","#000000","#000000","#000000","#000000","#1f77b4","#ffff00","#ff0000","#800080","#ff0000","#e5cce5"]},
    "legend": {"orient": "top-left", "offset": 7, "padding": 5, "title": null, "symbolSize": 100, "labelOffset": 27, "rowPadding": 6.0,
      "labelFontSize": 13.9, "labelFont": "DejaVu Sans", "labelColor": "black", "labelLimit": 300,
      "fillColor": "white", "strokeColor": "#cccccc", "cornerRadius": 3,
      "encode": {"symbols": {"update": {
        "shape": {"signal": "datum.value === 'Sander forecast' ? 'M0.6,-0.85L2.3,0.85M2.3,-0.85L0.6,0.85' : (datum.value === '95% confidence' ? 'M-1.4,-1H4.2V1H-1.4Z' : 'M-1.4,0H4.2')"},
        "fill": {"signal": "datum.value === '95% confidence' ? '#e5cce5' : 'transparent'"},
        "stroke": {"signal": "datum.value === '95% confidence' ? 'transparent' : scale('color', datum.value)"},
        "strokeWidth": {"signal": "datum.value === 'Sander forecast' ? 1.4 : 2"},
        "opacity": {"value": 1}
      }}}
    }}
  }},
 {"data": {"name": "tw"}, "mark": {"type": "line", "strokeWidth": 2},
  "encoding": {
   "x": {"field": "h", "type": "quantitative", "scale": {"domain": [0.49, 33.53], "nice": false, "zero": false}, "axis": {"title": "UTC time [hours]"}},
   "y": {"field": "t", "type": "quantitative", "scale": {"domain": [7.845, 28.945], "nice": false, "zero": false}, "axis": {"title": "Temperature [ °C]"}},
   "color": {"field": "s", "type": "nominal"},
   "detail": {"field": "s"},
   "order": {"field": "h", "type": "quantitative"}
  }},
 {"data": {"name": "tl"}, "mark": {"type": "line", "strokeWidth": 2},
  "encoding": {
   "x": {"field": "h", "type": "quantitative", "axis": {"title": "UTC time [hours]"}},
   "y": {"field": "t", "type": "quantitative", "axis": {"title": "Temperature [ °C]"}},
   "color": {"field": "s", "type": "nominal"},
   "order": {"field": "h", "type": "quantitative"}
  }},
 {"data": {"name": "now"}, "mark": {"type": "rule", "color": "#808080", "strokeWidth": 2},
  "encoding": {"x": {"field": "h", "type": "quantitative", "axis": {"title": "UTC time [hours]"}}}},
 {"data": {"name": "sunrise"}, "mark": {"type": "rule", "strokeWidth": 2},
  "encoding": {"x": {"field": "h", "type": "quantitative", "axis": {"title": "UTC time [hours]"}}, "color": {"field": "s", "type": "nominal"}}},
 {"data": {"name": "mins"}, "mark": {"type": "rule", "strokeWidth": 2},
  "encoding": {"y": {"field": "t", "type": "quantitative", "axis": {"title": "Temperature [ °C]"}}, "color": {"field": "s", "type": "nominal"}}},
 {"data": {"name": "sander"}, "mark": {"type": "point", "shape": "M-1,-1L1,1M1,-1L-1,1", "filled": false, "size": 69, "strokeWidth": 1.4, "opacity": 1},
  "encoding": {
   "x": {"field": "h", "type": "quantitative", "axis": {"title": "UTC time [hours]"}},
   "y": {"field": "t", "type": "quantitative", "axis": {"title": "Temperature [ °C]"}},
   "color": {"field": "s", "type": "nominal"}
  }}
]
}
